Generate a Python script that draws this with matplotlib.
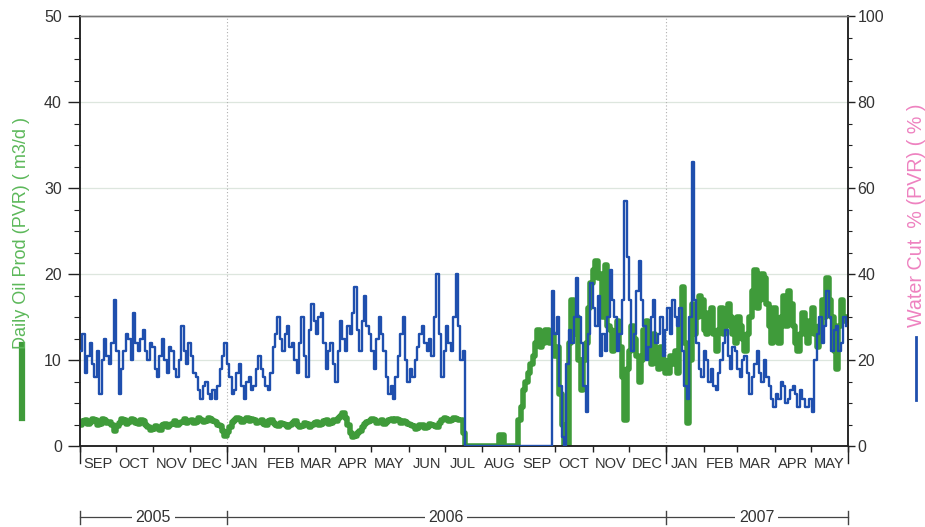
import datetime as dt
import matplotlib
matplotlib.use('Agg')
import matplotlib.pyplot as plt
from matplotlib.lines import Line2D

plt.rcParams['font.family'] = ['Liberation Sans', 'DejaVu Sans']

# ---------------- data (sampled every 2 days from 2005-09-01) ----------------
start_date = dt.date(2005, 9, 1)
step_days = 2

# Daily oil production (m3/d), left axis
oil = [
    # Sep 2005 - Dec 2005
    2.5, 2.9, 3, 2.6, 2.8, 3.1, 3, 2.5, 2.6, 3.1,
    3, 2.7, 2.8, 2.4, 1.8, 2.3, 2.7, 3.1, 3, 2.6,
    2.8, 3.1, 3, 2.7, 2.6, 3, 2.9, 2.5, 2.2, 1.9,
    2, 2.3, 2.1, 1.9, 2.4, 2.6, 2.2, 2.5, 2.6, 2.9,
    2.4, 2.7, 2.8, 3.1, 2.7, 2.9, 3, 2.7, 2.8, 3.2,
    3, 2.8, 2.9, 3.2, 3.1, 2.9, 2.8, 2.5, 2.3, 1.8,
    1.2,
    # Jan 2006 - mid Jul 2006
    1.6, 2.2, 2.8, 3, 3.3, 3.1, 2.8, 3, 3.2, 2.9,
    3.1, 3, 2.7, 2.8, 3, 2.6, 2.4, 2.9, 3, 2.7,
    2.5, 2.3, 2.7, 2.6, 2.4, 2.2, 2.5, 2.7, 2.9, 2.5,
    2.2, 2.3, 2.7, 2.6, 2.2, 2.4, 2.7, 2.8, 2.5, 2.6,
    2.9, 3, 2.6, 2.7, 3, 2.9, 3.2, 3.5, 3.8, 3.2,
    2.4, 1.5, 1.1, 1.2, 1.5, 1.7, 2.2, 2.6, 2.8, 2.9,
    3.1, 3, 2.7, 2.8, 3, 2.6, 2.8, 3, 3.1, 2.9,
    3.1, 3, 2.7, 2.9, 2.8, 2.6, 2.4, 2.3, 2, 2.1,
    2.5, 2.4, 2.1, 2.2, 2.6, 2.5, 2.3, 2.2, 2.7, 3,
    3.2, 3.1, 2.9, 3, 3.2, 3.1, 3, 3, 1.5,
    # shut-in, restart Sep 2006
    0, 0, 0, 0, 0, 0, 0, 0, 0, 0, 0, 0, 0, 0, 1.3, 1.3, 0, 0, 0, 0, 0, 0,
    3, 4.5, 6.5, 7.5, 8.5, 9.5, 10.5, 12, 13.5, 11.5, 12, 13.5, 13.5, 12,
    # late Sep 2006 - May 2007
    13, 10.5, 11.5, 6, 2.5, 0, 0, 12, 17, 13,
    15, 10, 6.5, 10, 12, 16, 19, 20.5, 21.5, 19.5,
    20, 15, 21, 14, 13.5, 11, 12, 14.5, 11.5, 8,
    3, 9, 11, 14, 12.5, 10.5, 7.5, 10, 13.5, 14.5,
    11.5, 9.5, 13, 11, 9, 11.5, 10, 8.5, 8.5, 10.5,
    9.5, 11, 8.5, 14, 18.5, 12, 2.7, 10, 16.5, 13,
    15, 17.5, 17, 13.5, 13, 15.5, 16, 13, 11, 13.5,
    16, 13, 14, 16.5, 15, 13, 12, 15, 14, 12.5,
    11, 13, 15, 18, 20.5, 16, 17, 20, 19.5, 16.5,
    14, 12, 16, 14, 12, 15, 17.5, 14, 18, 16.5,
    14, 12, 11, 13, 15.5, 13, 12, 14.5, 16, 13,
    11.5, 14, 17, 15, 19.5, 17, 15, 11, 9, 14,
    17, 14.5, 15,
]

# Water cut (%), right axis
wcut = [
    # Sep 2005 - Dec 2005
    22, 26, 17, 21, 24, 19, 16, 22, 12, 20,
    25, 21, 19, 24, 34, 22, 12, 18, 22, 26,
    25, 20, 31, 24, 22, 25, 27, 22, 20, 24,
    23, 18, 16, 21, 25, 20, 17, 23, 22, 18,
    16, 20, 28, 22, 19, 24, 21, 17, 16, 13,
    11, 14, 15, 12, 11, 13, 11, 14, 18, 21,
    24,
    # Jan 2006 - mid Jul 2006
    19, 16, 12, 13, 17, 19, 14, 11, 15, 16,
    13, 14, 18, 21, 18, 16, 14, 13, 17, 23,
    26, 30, 25, 22, 26, 28, 23, 24, 20, 17,
    24, 30, 21, 16, 27, 33, 29, 26, 30, 31,
    24, 18, 22, 24, 19, 15, 22, 29, 25, 22,
    28, 26, 31, 37, 27, 22, 29, 35, 28, 26,
    22, 18, 25, 30, 26, 22, 16, 12, 14, 11,
    16, 21, 26, 30, 20, 15, 18, 16, 20, 23,
    26, 28, 24, 22, 25, 21, 30, 40, 26, 16,
    22, 28, 24, 22, 30, 40, 28, 20, 22,
    # shut-in
    0, 0, 0, 0, 0, 0, 0, 0, 0, 0, 0, 0, 0, 0, 0, 0, 0, 0,
    0, 0, 0, 0, 0, 0, 0, 0, 0, 0, 0, 0, 0, 0, 0, 0, 0, 0,
    # late Sep 2006 - May 2007
    36, 26, 30, 14, 2, 0, 19, 27, 24, 30,
    39, 30, 24, 14, 8, 26, 38, 32, 28, 35,
    21, 26, 22, 30, 41, 34, 30, 22, 26, 34,
    57, 44, 34, 22, 26, 36, 43, 34, 28, 20,
    23, 30, 34, 24, 26, 30, 21, 27, 32, 26,
    34, 30, 28, 32, 22, 14, 11, 30, 66, 34,
    24, 18, 16, 22, 20, 15, 18, 14, 13, 17,
    20, 24, 27, 21, 18, 23, 22, 18, 16, 20,
    21, 17, 12, 16, 19, 22, 17, 15, 20, 16,
    14, 11, 9, 12, 11, 15, 14, 10, 11, 13,
    14, 12, 9, 13, 11, 9, 9, 11, 8, 20,
    26, 30, 24, 28, 36, 30, 22, 27, 28, 22,
    24, 30, 28,
]

month_labels = ['SEP', 'OCT', 'NOV', 'DEC', 'JAN', 'FEB', 'MAR', 'APR', 'MAY', 'JUN',
                'JUL', 'AUG', 'SEP', 'OCT', 'NOV', 'DEC', 'JAN', 'FEB', 'MAR', 'APR', 'MAY']
year_labels = ['2005', '2006', '2007']
year_bounds = [dt.date(2005, 9, 1), dt.date(2006, 1, 1), dt.date(2007, 1, 1), dt.date(2007, 6, 1)]

left_label = 'Daily Oil Prod (PVR) ( m3/d )'
right_label = 'Water Cut  % (PVR) ( % )'

oil_dates = [start_date + dt.timedelta(days=step_days * i) for i in range(len(oil))]
wcut_dates = [start_date + dt.timedelta(days=step_days * i) for i in range(len(wcut))]

# month boundaries / midpoints
month_starts = []
y, m = 2005, 9
for _ in range(len(month_labels) + 1):
    month_starts.append(dt.date(y, m, 1))
    m += 1
    if m > 12:
        m = 1
        y += 1
month_mids = [a + (b - a) / 2 for a, b in zip(month_starts[:-1], month_starts[1:])]

GREEN = '#3f9b3a'
BLUE = '#1f4fae'
GREEN_TXT = '#5cb85a'
PINK = '#ee82c0'
TXT = '#333333'

W, H = 925, 527
fig = plt.figure(figsize=(W / 100, H / 100), dpi=100)
L, R, B, T = 80, 848, 446, 16
ax = fig.add_axes([L / W, 1 - B / H, (R - L) / W, (B - T) / H])
ax2 = ax.twinx()

ax.set_xlim(year_bounds[0], year_bounds[-1])
ax.set_ylim(0, 50)
ax2.set_ylim(0, 100)

# grid
for v in [10, 20, 30, 40]:
    ax.axhline(v, color='#dde6de', lw=0.9, zorder=0)
for d in year_bounds[1:3]:
    ax.axvline(d, color='#b0b0b0', lw=0.8, ls=(0, (1, 2)), zorder=0)

ax.step(oil_dates, oil, where='post', color=GREEN, lw=4.0, zorder=2)
ax2.step(wcut_dates, wcut, where='post', color=BLUE, lw=1.7, zorder=3)

# spines
for a in (ax, ax2):
    for s in ('left', 'right', 'bottom'):
        a.spines[s].set_color('#222222')
        a.spines[s].set_linewidth(1.1)
    a.spines['top'].set_color('#777777')
    a.spines['top'].set_linewidth(1.0)

# y ticks
ax.set_yticks(range(0, 51, 10))
ax.set_yticks([v * 2.5 for v in range(21)], minor=True)
ax.tick_params(axis='y', which='major', direction='out', length=9, width=1, pad=4,
               labelsize=11.5, labelcolor=TXT, color='#222222')
ax.tick_params(axis='y', which='minor', direction='out', length=4.5, width=0.8, color='#222222')
ax2.set_yticks(range(0, 101, 20))
ax2.set_yticks(range(0, 101, 5), minor=True)
ax2.tick_params(axis='y', which='major', direction='out', length=5, width=1, pad=2,
                labelsize=11.5, labelcolor=TXT, color='#222222')
ax2.tick_params(axis='y', which='minor', direction='out', length=3, width=0.8, color='#222222')

# x ticks: labels at month middles, small ticks at month starts
ax.set_xticks(month_mids)
ax.set_xticklabels(month_labels)
ax.set_xticks(month_starts, minor=True)
ax.tick_params(axis='x', which='major', length=0, pad=8, labelsize=10.5, labelcolor=TXT)
ax.tick_params(axis='x', which='minor', direction='out', length=4, width=1, color='#222222')
xt = ax.get_xaxis_transform()
for d in year_bounds:
    ax.plot([d, d], [0, -0.04], transform=xt, color='#222222', lw=1, clip_on=False)

# year bracket row
yy = (B - 517) / (B - T)
ax.plot([year_bounds[0], year_bounds[-1]], [yy, yy], transform=xt, color='#444444',
        lw=0.9, clip_on=False)
cap = 6.5 / (B - T)
for d in year_bounds:
    ax.plot([d, d], [yy - cap, yy + cap], transform=xt, color='#444444', lw=1, clip_on=False)
for lab, a, b in zip(year_labels, year_bounds[:-1], year_bounds[1:]):
    ax.text(a + (b - a) / 2, yy, lab, transform=xt, ha='center', va='center',
            fontsize=11.5, color=TXT,
            bbox=dict(facecolor='white', edgecolor='none', pad=2.5))

# axis titles with legend marks
fig.text(22 / W, 1 - 233 / H, left_label, rotation=90, ha='center', va='center',
         fontsize=13, color=GREEN_TXT)
fig.add_artist(Line2D([22 / W, 22 / W], [1 - 345 / H, 1 - 418 / H], color=GREEN, lw=4.5,
                      transform=fig.transFigure))
fig.text(917 / W, 1 - 215 / H, right_label, rotation=90, ha='center', va='center',
         fontsize=14.2, color=PINK)
fig.add_artist(Line2D([916 / W, 916 / W], [1 - 337 / H, 1 - 400 / H], color=BLUE, lw=2,
                      transform=fig.transFigure))

fig.savefig('out.png', dpi=100)
